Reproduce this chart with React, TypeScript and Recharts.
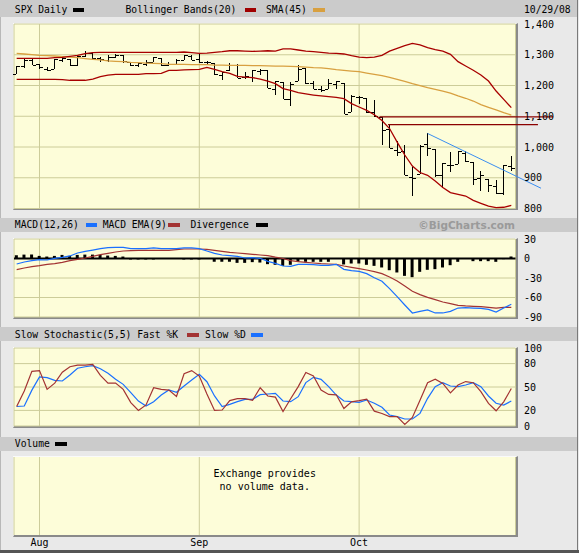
import React from 'react';
import { ComposedChart, Bar, Line, XAxis, YAxis, CartesianGrid, ReferenceLine } from 'recharts';

// trading days shown, 7/29/08 .. 10/29/08
const dates = [
  '7/29', '7/30', '7/31', '8/1', '8/4', '8/5', '8/6', '8/7', '8/8', '8/11', '8/12', '8/13', '8/14', '8/15',
  '8/18', '8/19', '8/20', '8/21', '8/22', '8/25', '8/26', '8/27', '8/28', '8/29', '9/2', '9/3', '9/4', '9/5',
  '9/8', '9/9', '9/10', '9/11', '9/12', '9/15', '9/16', '9/17', '9/18', '9/19', '9/22', '9/23', '9/24', '9/25',
  '9/26', '9/29', '9/30', '10/1', '10/2', '10/3', '10/6', '10/7', '10/8', '10/9', '10/10', '10/13', '10/14',
  '10/15', '10/16', '10/17', '10/20', '10/21', '10/22', '10/23', '10/24', '10/27', '10/28', '10/29',
];

const open = [
  1236.4, 1264.5, 1281.4, 1269.4, 1253.3, 1254.9, 1284.0, 1286.5, 1266.3, 1294.4, 1304.8, 1288.6, 1282.1, 1293.9,
  1298.1, 1276.7, 1267.3, 1271.1, 1277.6, 1290.5, 1267.0, 1271.3, 1283.8, 1296.5, 1287.8, 1275.0, 1271.8, 1233.2,
  1249.5, 1268.0, 1227.5, 1229.0, 1245.9, 1250.9, 1188.3, 1210.3, 1157.1, 1213.1, 1255.4, 1207.6, 1188.8, 1187.9,
  1204.5, 1209.1, 1113.8, 1164.2, 1160.6, 1115.2, 1097.6, 1057.6, 988.9, 988.4, 902.3, 912.8, 1010.0,
  994.6, 909.5, 942.3, 943.5, 980.4, 951.7, 899.1, 895.2, 874.3, 848.9, 939.5,
];
const high = [
  1263.2, 1284.9, 1284.9, 1270.5, 1260.5, 1284.9, 1291.7, 1286.5, 1297.9, 1313.2, 1304.8, 1294.0, 1300.1, 1302.1,
  1300.2, 1276.7, 1276.0, 1281.8, 1293.1, 1290.5, 1275.7, 1287.5, 1300.7, 1297.6, 1303.0, 1280.6, 1271.8, 1244.9,
  1274.4, 1268.7, 1243.9, 1250.0, 1255.1, 1250.9, 1214.8, 1210.3, 1211.1, 1265.1, 1255.4, 1215.0, 1197.4, 1220.0,
  1215.8, 1209.1, 1168.0, 1167.0, 1160.6, 1153.8, 1097.6, 1072.9, 1021.1, 1005.3, 936.4, 1006.9, 1044.3,
  994.6, 947.7, 984.6, 985.4, 985.4, 951.7, 922.8, 896.3, 893.8, 940.5, 970.0,
];
const low = [
  1236.4, 1255.7, 1265.1, 1254.5, 1247.5, 1254.7, 1276.0, 1264.3, 1262.1, 1292.8, 1285.6, 1274.9, 1276.4, 1290.7,
  1274.5, 1263.1, 1261.2, 1264.0, 1277.6, 1264.9, 1263.2, 1271.3, 1283.8, 1282.7, 1272.2, 1265.6, 1232.8, 1217.2,
  1247.1, 1224.5, 1221.6, 1211.5, 1233.8, 1192.7, 1169.3, 1155.9, 1133.5, 1213.1, 1205.6, 1187.8, 1179.8, 1187.9,
  1187.5, 1106.4, 1113.8, 1140.8, 1111.4, 1098.1, 1008.0, 996.2, 971.0, 909.2, 839.8, 912.8, 972.1,
  904.0, 865.8, 918.7, 943.5, 952.5, 875.8, 858.4, 852.9, 846.8, 845.3, 922.3,
];
const close = [
  1263.2, 1284.3, 1267.4, 1260.3, 1249.0, 1284.9, 1289.2, 1266.1, 1296.3, 1305.3, 1289.6, 1285.8, 1292.9, 1298.2,
  1278.6, 1266.7, 1274.5, 1277.7, 1292.2, 1266.8, 1271.5, 1281.7, 1300.7, 1282.8, 1277.6, 1275.0, 1236.8, 1242.3,
  1267.8, 1224.5, 1232.0, 1249.1, 1251.7, 1192.7, 1213.6, 1156.4, 1206.5, 1255.1, 1207.1, 1188.2, 1185.9, 1209.2,
  1213.3, 1106.4, 1166.4, 1161.1, 1114.3, 1099.2, 1056.9, 996.2, 984.9, 909.9, 899.2, 1003.4, 998.0,
  907.8, 946.4, 940.6, 985.4, 955.1, 896.8, 908.1, 876.8, 848.9, 940.5, 930.1,
];

const bbUpper = [
  1288, 1288, 1288, 1288, 1288.5, 1290.5, 1291.5, 1295, 1298, 1303.5, 1307, 1308, 1308, 1308,
  1308, 1308, 1308, 1308, 1308, 1308, 1308, 1308, 1309, 1307, 1304.5, 1305.5, 1308, 1310,
  1313, 1313, 1312, 1311, 1312, 1313, 1312, 1319, 1319, 1315.5, 1312, 1310, 1308, 1305.5,
  1304.5, 1302.5, 1297, 1292.5, 1290.5, 1292.5, 1298, 1312, 1321, 1329.5, 1337, 1332, 1323,
  1316.5, 1312, 1301.5, 1277.5, 1263.5, 1249.5, 1234, 1214.5, 1182, 1155, 1128,
];
const bbLower = [
  1220, 1220, 1220, 1220, 1220, 1220, 1219, 1217, 1217, 1217, 1221, 1229, 1234, 1236.5,
  1236.5, 1236.5, 1236.5, 1238.5, 1238.5, 1239.5, 1249.5, 1249.5, 1250.5, 1251.5, 1252.5, 1259, 1252.5, 1245,
  1239.5, 1230, 1227.5, 1225.5, 1221, 1214.5, 1206, 1190, 1184, 1176.5, 1172.5, 1169, 1166, 1163.5,
  1161.5, 1157, 1141, 1130, 1119, 1105, 1086, 1060, 1016, 974, 938, 917, 908,
  889.5, 868, 851.5, 846, 840.5, 826.5, 817, 808, 803, 804, 810,
];
const sma45 = [
  1304.5, 1302.5, 1300.5, 1298, 1297, 1296, 1294, 1292.5, 1290.5, 1287.5, 1285, 1283, 1280, 1278.5,
  1277.5, 1275.5, 1274.5, 1273, 1272, 1271, 1269, 1269, 1269, 1268, 1268, 1268, 1266.5, 1266.5,
  1265.5, 1265.5, 1265.5, 1264.5, 1264.5, 1263.5, 1263, 1263, 1262.5, 1261.5, 1260, 1258, 1257, 1255,
  1251.5, 1249.5, 1247, 1245, 1240.5, 1236.5, 1232, 1226.5, 1220, 1213.5, 1206, 1199.5, 1193,
  1187.5, 1182, 1175.5, 1166, 1158.5, 1149.5, 1138, 1129, 1120.5, 1111.5, 1104,
];

const macd = [
  -8.5, -5.4, -3.3, -1.8, -2.3, 0.3, 1.8, 3.9, 8.5, 11, 13, 15.1, 16.7, 17.2,
  17.2, 15.1, 15.1, 15.1, 16.2, 15.1, 15.1, 15.1, 16.2, 16.2, 15.1, 11.5, 8, 5.4,
  4.4, 3.3, 0.8, 1.3, 0.3, -4.4, -7.4, -11.5, -12, -9, -9, -9.5, -10.5, -10.5,
  -9, -16.7, -18.7, -19.7, -23.3, -29.5, -35, -46.4, -58.7, -71.5, -83.8, -81.3, -79.2,
  -83.8, -83.8, -81.3, -76.2, -75.6, -76.2, -76.7, -78.2, -82.3, -76.2, -70.5,
];
const macdEma = [
  -17, -14.6, -12.6, -11, -9, -8, -5.9, -3.3, -1.3, 0.8, 3.3, 5.9, 8, 10,
  11.5, 12, 12.6, 12.6, 12.6, 12.6, 12.6, 13.6, 14.6, 14.6, 14.6, 14.1, 12.6, 11,
  9.5, 8.5, 7.4, 6.4, 5.4, 4.4, 2, 0, -3.3, -4.9, -5.9, -6.9, -8, -8.5,
  -9, -11.5, -13.6, -15.6, -17.7, -20.3, -23.3, -28.5, -34.6, -42.3, -50.5, -55.6, -59.7,
  -63.3, -66.9, -69.5, -72, -73, -73.6, -74.1, -75.1, -76.2, -75.1, -75.1,
];
const divergence = [
  5, 6, 6, 4, 3, 4, 5.5, 4, 5.5, 6, 6, 5.5, 4.5, 4,
  3, -1.5, -1.5, -1.5, -1.5, 0, 0, 0, -1.5, -1.5, -1.5, 0, -5, -5,
  -5, -6.7, -6.7, -5.6, -6.2, -8.7, -9.7, -11.3, -9.7, -5.1, -5.1, -5.1, -5.1, -5.1,
  0, -9.2, -7.7, -7.7, -9.7, -11.3, -13.8, -18, -21.5, -26.7, -28.7, -20.5, -17.4,
  -16.4, -13.8, -10.3, -5.1, 0, -4.1, -4.1, -4.1, -5.1, -1, 3,
];

const fastK = [
  25, 45, 70, 71, 47, 55, 69, 76, 78, 78, 79, 65, 55, 55,
  47, 30, 20, 27, 49, 47, 46, 38, 67, 71, 64, 41, 20, 20.5,
  32.5, 35, 35, 33, 49, 38.5, 37, 18.5, 35, 50.5, 68.5, 64, 46, 40.5,
  40, 22.5, 31, 32.5, 34.5, 19, 16, 12, 12, 2, 11, 33, 55.5,
  60, 54.5, 42.5, 52.5, 57, 55.5, 44, 29, 19.5, 31, 48,
];
const slowD = [
  25, 25.6, 46, 63, 62, 58.5, 57.7, 65.4, 74, 76, 77.4, 73.5, 67.5, 60,
  53.4, 42.7, 32, 25.6, 31, 39.7, 46.2, 43.2, 51.3, 59, 66.2, 56.8, 38.5, 25,
  27.8, 31.2, 34.2, 34.2, 40.2, 41, 41.9, 32, 31.2, 37.6, 55.6, 62.4, 59.8, 50.4,
  39.7, 32, 31.2, 30.3, 33.3, 29.1, 24, 14.1, 12, 9, 9, 16.2, 35.5,
  50.4, 55.6, 51.3, 50.4, 52.6, 55.6, 50.4, 38.5, 29.1, 26.9, 32,
];

const monthTicks = [3, 24, 45];
const monthNames = ['Aug', 'Sep', 'Oct'];
const priceTicks = [800, 900, 1000, 1100, 1200, 1300, 1400];
const macdTicks = [-90, -60, -30, 0, 30];
const stochTicks = [0, 20, 50, 80, 100];

const rows = dates.map((date, i) => ({
  i,
  date,
  open: open[i],
  high: high[i],
  low: low[i],
  close: close[i],
  range: [low[i], high[i]],
  upper: bbUpper[i],
  lower: bbLower[i],
  sma: sma45[i],
  macd: macd[i],
  ema: macdEma[i],
  div: divergence[i],
  fastK: fastK[i],
  slowD: slowD[i],
}));

const MONO = '"DejaVu Sans Mono", monospace';
const GRID = '#cccc99';
const PLOT_BG = '#fdfdd9';
const X_DOMAIN = [-0.35, 65.55];
const tickStyle = { fontFamily: MONO, fontSize: 10, fill: '#000' };

// HLC bar with open tick on the left, close tick on the right
function OhlcBar(props: any) {
  const { x, y, width, height, payload } = props;
  const cx = Math.round(x + width / 2);
  const span = payload.high - payload.low;
  const yOpen = Math.round(y + ((payload.high - payload.open) / span) * height);
  const yClose = Math.round(y + ((payload.high - payload.close) / span) * height);
  const top = Math.round(y);
  return (
    <g fill="#000">
      <rect x={cx} y={top} width={1} height={Math.max(Math.round(y + height) - top, 1)} />
      <rect x={cx - 3} y={yOpen} width={3} height={1} />
      <rect x={cx + 1} y={yClose} width={3} height={1} />
    </g>
  );
}

function PlotBox({ top, height }: { top: number; height: number }) {
  return (
    <div
      style={{
        position: 'absolute',
        left: 13,
        top: top - 1,
        width: 501.5,
        height,
        background: PLOT_BG,
        borderTop: '1px solid #fafafa',
        borderLeft: '1px solid #fafafa',
        borderRight: '2px solid #8a8a8a',
        borderBottom: '2px solid #8a8a8a',
      }}
    />
  );
}

function HeaderBand({ top, height }: { top: number; height: number }) {
  return <div style={{ position: 'absolute', left: 0, top, width: 577, height, background: '#cbcbcb' }} />;
}

function Txt({ left, mid, children }: { left: number; mid: number; children: React.ReactNode }) {
  return (
    <span
      style={{
        position: 'absolute',
        left,
        top: mid - 6,
        height: 12,
        lineHeight: '12px',
        fontFamily: MONO,
        fontSize: 9.7,
        color: '#000',
        whiteSpace: 'pre',
      }}
    >
      {children}
    </span>
  );
}

function Swatch({ left, mid, color }: { left: number; mid: number; color: string }) {
  return <div style={{ position: 'absolute', left, top: mid - 2, width: 11.5, height: 4, background: color }} />;
}

export default function App() {
  return (
    <div style={{ position: 'absolute', left: 0, top: 0, width: 579, height: 553, background: '#e9e9e9', overflow: 'hidden' }}>
      <div style={{ position: 'absolute', left: 0, top: 0, width: 1, height: 553, background: '#b8b8b8' }} />
      <div style={{ position: 'absolute', left: 577, top: 0, width: 1, height: 553, background: '#7a7a7a' }} />
      <div style={{ position: 'absolute', left: 0, top: 550, width: 579, height: 3, background: '#555' }} />

      {/* header bands */}
      <HeaderBand top={0} height={17} />
      <HeaderBand top={218} height={14} />
      <HeaderBand top={327} height={14} />
      <HeaderBand top={437} height={14} />

      <Txt left={14.8} mid={10}>SPX Daily</Txt>
      <Swatch left={72.7} mid={10} color="#000" />
      <Txt left={125.5} mid={10}>Bollinger Bands(20)</Txt>
      <Swatch left={244.5} mid={10} color="#a00000" />
      <Txt left={266} mid={10}>SMA(45)</Txt>
      <Swatch left={313} mid={10} color="#d8a040" />
      <Txt left={524} mid={10}>10/29/08</Txt>

      <Txt left={14.8} mid={225.3}>MACD(12,26)</Txt>
      <Swatch left={85.7} mid={225.3} color="#1a70ff" />
      <Txt left={102.7} mid={225.3}>MACD EMA(9)</Txt>
      <Swatch left={168} mid={225.3} color="#a33333" />
      <Txt left={190.5} mid={225.3}>Divergence</Txt>
      <Swatch left={256} mid={225.3} color="#000" />
      <span
        style={{
          position: 'absolute',
          right: 579 - 515,
          top: 218,
          lineHeight: '14px',
          fontFamily: '"DejaVu Sans", sans-serif',
          fontWeight: 'bold',
          fontSize: 10.5,
          color: '#9a9a9a',
        }}
      >
        ©BigCharts.com
      </span>

      <Txt left={14.8} mid={334.7}>Slow Stochastic(5,5) Fast %K</Txt>
      <Swatch left={187} mid={334.7} color="#a33333" />
      <Txt left={205} mid={334.7}>Slow %D</Txt>
      <Swatch left={251} mid={334.7} color="#1a70ff" />

      <Txt left={14.8} mid={444}>Volume</Txt>
      <Swatch left={55.4} mid={444} color="#000" />

      {/* plot backgrounds */}
      <PlotBox top={23.5} height={184.5} />
      <PlotBox top={239} height={78} />
      <PlotBox top={348} height={78} />
      <PlotBox top={457} height={78} />

      {/* price panel */}
      <div style={{ position: 'absolute', left: 0, top: 13.5 }}>
        <ComposedChart width={579} height={204.5} data={rows} margin={{ top: 10, right: 13.5, bottom: 10, left: 14 }}>
          <CartesianGrid stroke={GRID} />
          <XAxis dataKey="i" type="number" domain={X_DOMAIN} ticks={monthTicks} hide />
          <YAxis
            orientation="right"
            width={50}
            type="number"
            domain={[800, 1400]}
            ticks={priceTicks}
            interval={0}
            tickLine={false}
            axisLine={false}
            tickSize={0}
            tickMargin={8.5}
            tick={tickStyle}
            tickFormatter={(v: number) => v.toLocaleString('en-US')}
          />
          <Line dataKey="sma" stroke="#d8a040" strokeWidth={1.3} dot={false} isAnimationActive={false} />
          <Line dataKey="upper" stroke="#a80000" strokeWidth={1.3} dot={false} isAnimationActive={false} />
          <Line dataKey="lower" stroke="#a80000" strokeWidth={1.3} dot={false} isAnimationActive={false} />
          <Bar dataKey="range" barSize={8} shape={OhlcBar} isAnimationActive={false} />
          <ReferenceLine
            segment={[{ x: 47.7, y: 1098 }, { x: 70.5, y: 1098 }]}
            stroke="#8b0000"
            strokeWidth={1.3}
            ifOverflow="visible"
          />
          <ReferenceLine
            segment={[{ x: 48.8, y: 1073 }, { x: 68.5, y: 1073 }]}
            stroke="#8b0000"
            strokeWidth={1.3}
            ifOverflow="visible"
          />
          <ReferenceLine
            segment={[{ x: 54, y: 1044 }, { x: 68.9, y: 866 }]}
            stroke="#3a8ef0"
            strokeWidth={1}
            ifOverflow="visible"
          />
        </ComposedChart>
      </div>

      {/* MACD panel */}
      <div style={{ position: 'absolute', left: 0, top: 229 }}>
        <ComposedChart width={579} height={98} data={rows} margin={{ top: 10, right: 13.5, bottom: 10, left: 14 }}>
          <CartesianGrid stroke={GRID} />
          <XAxis dataKey="i" type="number" domain={X_DOMAIN} ticks={monthTicks} hide />
          <YAxis
            orientation="right"
            width={50}
            type="number"
            domain={[-90, 30]}
            ticks={macdTicks}
            interval={0}
            tickLine={false}
            axisLine={false}
            tickSize={0}
            tickMargin={8.5}
            tick={tickStyle}
          />
          <ReferenceLine y={0} stroke="#000" strokeWidth={2} />
          <Bar dataKey="div" barSize={3} fill="#000" isAnimationActive={false} />
          <Line dataKey="ema" stroke="#a33333" strokeWidth={1.2} dot={false} isAnimationActive={false} />
          <Line dataKey="macd" stroke="#1a70ff" strokeWidth={1.2} dot={false} isAnimationActive={false} />
        </ComposedChart>
      </div>

      {/* stochastic panel */}
      <div style={{ position: 'absolute', left: 0, top: 338 }}>
        <ComposedChart width={579} height={98} data={rows} margin={{ top: 10, right: 13.5, bottom: 10, left: 14 }}>
          <CartesianGrid stroke={GRID} />
          <XAxis dataKey="i" type="number" domain={X_DOMAIN} ticks={monthTicks} hide />
          <YAxis
            orientation="right"
            width={50}
            type="number"
            domain={[0, 100]}
            ticks={stochTicks}
            interval={0}
            tickLine={false}
            axisLine={false}
            tickSize={0}
            tickMargin={8.5}
            tick={tickStyle}
          />
          <Line dataKey="slowD" stroke="#1a70ff" strokeWidth={1.2} dot={false} isAnimationActive={false} />
          <Line dataKey="fastK" stroke="#a33333" strokeWidth={1.2} dot={false} isAnimationActive={false} />
        </ComposedChart>
      </div>

      {/* volume panel (no data) */}
      <div style={{ position: 'absolute', left: 0, top: 447 }}>
        <ComposedChart width={579} height={106} data={rows} margin={{ top: 10, right: 63.5, bottom: 0, left: 14 }}>
          <CartesianGrid stroke={GRID} horizontal={false} />
          <XAxis
            dataKey="i"
            type="number"
            domain={X_DOMAIN}
            ticks={monthTicks}
            interval={0}
            height={18}
            tickLine={false}
            axisLine={false}
            tickSize={0}
            tickMargin={4}
            tick={tickStyle}
            tickFormatter={(v: number) => monthNames[monthTicks.indexOf(v)]}
          />
          <YAxis type="number" domain={[0, 1]} hide />
          <Line dataKey="volume" stroke="#000" dot={false} isAnimationActive={false} />
        </ComposedChart>
      </div>
      <div
        style={{
          position: 'absolute',
          left: 14,
          top: 468,
          width: 501.5,
          textAlign: 'center',
          fontFamily: MONO,
          fontSize: 10,
          lineHeight: '12.5px',
          color: '#000',
        }}
      >
        Exchange provides
        <br />
        no volume data.
      </div>
    </div>
  );
}
